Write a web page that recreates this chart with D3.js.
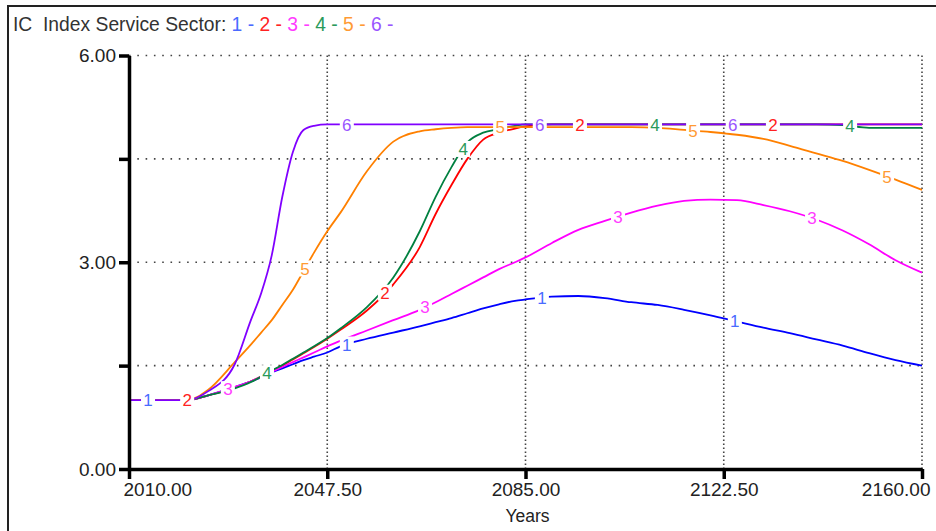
<!DOCTYPE html>
<html>
<head>
<meta charset="utf-8">
<script src="https://cdn.jsdelivr.net/npm/d3@7"></script>
<style>
  body { margin: 0; background: #fff; }
  svg { display: block; }
  text { font-family: Arial, "Liberation Sans", sans-serif; }
</style>
</head>
<body>
<svg id="chart" width="936" height="531"></svg>
<script>
// ---- data ----
const years = [2010, 2021, 2025, 2030, 2033, 2035, 2037, 2039, 2041, 2043, 2045, 2047.5,
  2050, 2055, 2060, 2065, 2068, 2071, 2074, 2077, 2080, 2083, 2085, 2090, 2095, 2100,
  2105, 2110, 2115, 2120, 2125, 2130, 2135, 2140, 2145, 2150, 2155, 2160];

const run1 = [1.00, 1.00, 1.07, 1.19, 1.27, 1.33, 1.40, 1.46, 1.52, 1.58, 1.63, 1.69,
  1.78, 1.89, 1.98, 2.07, 2.13, 2.19, 2.26, 2.33, 2.39, 2.44, 2.46, 2.50, 2.51, 2.48,
  2.42, 2.38, 2.31, 2.23, 2.14, 2.05, 1.97, 1.88, 1.79, 1.68, 1.58, 1.50];
const run2 = [1.00, 1.00, 1.07, 1.18, 1.27, 1.34, 1.42, 1.50, 1.59, 1.68, 1.77, 1.89,
  2.02, 2.30, 2.68, 3.22, 3.70, 4.12, 4.50, 4.78, 4.88, 4.94, 4.97, 5.00, 5.00, 5.00,
  5.00, 5.00, 5.00, 5.00, 5.00, 5.00, 5.00, 5.00, 5.00, 5.00, 5.00, 5.00];
const run3 = [1.00, 1.00, 1.07, 1.19, 1.27, 1.34, 1.41, 1.48, 1.55, 1.62, 1.69, 1.78,
  1.86, 2.01, 2.16, 2.31, 2.42, 2.54, 2.66, 2.78, 2.90, 3.00, 3.07, 3.28, 3.47, 3.60,
  3.72, 3.82, 3.89, 3.91, 3.90, 3.83, 3.74, 3.62, 3.46, 3.26, 3.03, 2.85];
const run4 = [1.00, 1.00, 1.07, 1.17, 1.26, 1.34, 1.43, 1.51, 1.60, 1.69, 1.78, 1.90,
  2.04, 2.35, 2.78, 3.45, 3.95, 4.38, 4.74, 4.88, 4.93, 4.98, 5.00, 5.00, 5.00, 5.00,
  5.00, 5.00, 5.00, 5.00, 5.00, 5.00, 5.00, 5.00, 4.99, 4.95, 4.95, 4.95];
const run5 = [1.00, 1.00, 1.15, 1.55, 1.80, 1.98, 2.16, 2.38, 2.60, 2.87, 3.14, 3.45,
  3.72, 4.32, 4.75, 4.90, 4.93, 4.95, 4.96, 4.96, 4.96, 4.96, 4.96, 4.96, 4.96, 4.96,
  4.96, 4.95, 4.92, 4.89, 4.85, 4.79, 4.69, 4.58, 4.47, 4.34, 4.20, 4.05];
const run6 = [1.00, 1.00, 1.13, 1.52, 2.15, 2.55, 3.10, 3.95, 4.60, 4.92, 4.98, 5.00,
  5.00, 5.00, 5.00, 5.00, 5.00, 5.00, 5.00, 5.00, 5.00, 5.00, 5.00, 5.00, 5.00, 5.00,
  5.00, 5.00, 5.00, 5.00, 5.00, 5.00, 5.00, 5.00, 5.00, 5.00, 5.00, 5.00];

const seriesNames = ["1", "2", "3", "4", "5", "6"];
const seriesValues = [run1, run2, run3, run4, run5, run6];

// years at which each run carries its number tag
const tagYears = [
  [2013.6, 2051.2, 2088.1, 2124.6],
  [2021.0, 2058.4, 2095.3, 2131.8],
  [2028.7, 2066.0, 2102.5, 2139.2],
  [2036.1, 2073.2, 2109.5, 2146.4],
  [2043.3, 2080.2, 2116.7, 2153.4],
  [2051.2, 2087.7, 2124.2]
];

const xTicks = [2010, 2047.5, 2085, 2122.5, 2160];
const xTickLabels = ["2010.00", "2047.50", "2085.00", "2122.50", "2160.00"];
const yTicks = [0, 1.5, 3, 4.5, 6];
const yTickLabels = ["0.00", "", "3.00", "", "6.00"];

const titleText = "IC  Index Service Sector: ";
const xAxisTitle = "Years";

// ---- styles ----
const lineColors = ["#0000ff", "#ff0000", "#ff00ff", "#008040", "#ff8000", "#8000ff"];
const tagColors  = ["#4a6bff", "#ff2222", "#ff3cff", "#2a9a5a", "#ff9a33", "#9a55ff"];

const W = 936, H = 531;
const plotLeft = 129, plotRight = 922, plotTop = 55.5, plotBottom = 469;

const svg = d3.select("#chart");
svg.append("rect").attr("width", W).attr("height", H).attr("fill", "#fff");

// frame edges
svg.append("path")
  .attr("d", `M8,${H} L8,6 L${W},6`)
  .attr("fill", "none").attr("stroke", "#222").attr("stroke-width", 2);

const x = d3.scaleLinear().domain([2010, 2160]).range([plotLeft, plotRight]);
const y = d3.scaleLinear().domain([0, 6]).range([plotBottom, plotTop]);

// title
const title = svg.append("text").attr("x", 13).attr("y", 31)
  .attr("font-size", 19.3).attr("fill", "#333")
  .style("white-space", "pre");
title.append("tspan").text(titleText);
seriesNames.forEach((n, i) => {
  title.append("tspan").attr("fill", tagColors[i]).text(n + " - ");
});

// dotted grid
const grid = svg.append("g");
grid.selectAll("line.h").data(yTicks.filter(d => d > 0)).join("line")
  .attr("x1", plotLeft).attr("x2", plotRight)
  .attr("y1", d => y(d)).attr("y2", d => y(d))
  .attr("stroke", "#444").attr("stroke-width", 1.6)
  .attr("stroke-dasharray", "1.6,6.7");
grid.selectAll("line.v").data(xTicks.filter(d => d > 2010)).join("line")
  .attr("x1", d => x(d)).attr("x2", d => x(d))
  .attr("y1", plotTop).attr("y2", plotBottom)
  .attr("stroke", "#444").attr("stroke-width", 1.6)
  .attr("stroke-dasharray", "1.6,2.4");

// series lines
const lineGen = d3.line()
  .x((d, i) => x(years[i]))
  .y(d => y(d))
  .curve(d3.curveMonotoneX);

svg.append("g").selectAll("path").data(seriesValues).join("path")
  .attr("d", d => lineGen(d))
  .attr("fill", "none")
  .attr("stroke", (d, i) => lineColors[i])
  .attr("stroke-width", 1.8)
  .attr("stroke-linejoin", "round");

// number tags along each run
function valueAt(vals, yr) {
  const j = Math.max(1, Math.min(years.length - 1, d3.bisectRight(years, yr)));
  const t = (yr - years[j - 1]) / (years[j] - years[j - 1]);
  return vals[j - 1] + t * (vals[j] - vals[j - 1]);
}
const tags = [];
seriesValues.forEach((vals, i) => {
  tagYears[i].forEach(yr => tags.push({ i, yr, v: valueAt(vals, yr) }));
});
const tagG = svg.append("g").selectAll("g").data(tags).join("g")
  .attr("transform", d => `translate(${x(d.yr)},${y(d.v)})`);
tagG.append("rect")
  .attr("x", -7).attr("y", -8).attr("width", 14).attr("height", 16)
  .attr("fill", "#fff");
tagG.append("text")
  .attr("text-anchor", "middle").attr("dy", "0.36em")
  .attr("font-size", 17)
  .attr("fill", d => tagColors[d.i])
  .text(d => seriesNames[d.i]);

// axes
const xAxis = d3.axisBottom(x).tickValues(xTicks)
  .tickFormat((d, i) => xTickLabels[i]).tickSizeInner(10).tickSizeOuter(0).tickPadding(4);
const yAxis = d3.axisLeft(y).tickValues(yTicks)
  .tickFormat((d, i) => yTickLabels[i]).tickSizeInner(10).tickSizeOuter(0).tickPadding(3);

const gx = svg.append("g").attr("transform", `translate(0,${plotBottom})`).call(xAxis);
const gy = svg.append("g").attr("transform", `translate(${plotLeft},0)`).call(yAxis);
[gx, gy].forEach(g => {
  g.select(".domain").attr("stroke", "#000").attr("stroke-width", 3.5);
  g.selectAll(".tick line").attr("stroke", "#000").attr("stroke-width", 3.5);
  g.selectAll(".tick text").attr("font-size", 19).attr("fill", "#222")
    .attr("font-family", "Arial, 'Liberation Sans', sans-serif");
});
// end labels kept inside the frame: first starts at the axis, last ends at the edge
const nX = xTicks.length;
gx.selectAll(".tick text")
  .attr("text-anchor", (d, i) => i === 0 ? "start" : i === nX - 1 ? "end" : "middle")
  .attr("dx", (d, i) => i === 0 ? -6 : i === nX - 1 ? 8 : 0);

svg.append("text")
  .attr("x", (plotLeft + plotRight) / 2 + 2).attr("y", 522)
  .attr("text-anchor", "middle").attr("font-size", 17.5).attr("fill", "#222")
  .text(xAxisTitle);
</script>
</body>
</html>
